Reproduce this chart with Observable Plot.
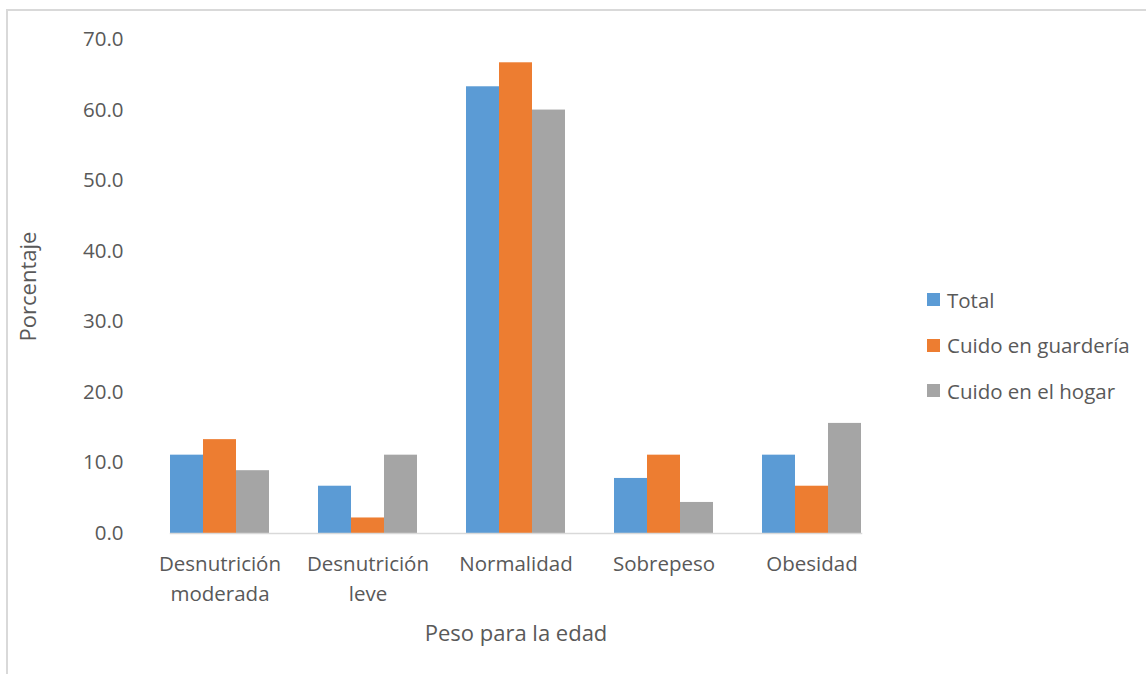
<!DOCTYPE html>
<html><head><meta charset="utf-8">
<script src="https://cdn.jsdelivr.net/npm/d3@7"></script>
<script src="https://cdn.jsdelivr.net/npm/@observablehq/plot@0.6"></script>
<style>
html,body{margin:0;padding:0;background:#fff;overflow:hidden;}
#wrap{position:relative;width:1146px;height:674px;font-family:"Open Sans",sans-serif;color:#595959;}
#border{position:absolute;left:6px;top:9px;width:1200px;height:700px;border:2px solid #d9d9d9;box-sizing:border-box;}
#chart{position:absolute;left:0;top:0;}
#legend{position:absolute;left:927px;top:277px;font-size:20.5px;}
.li{display:flex;align-items:center;height:45.5px;}
.sw{width:13px;height:13px;margin-right:7px;}
</style></head>
<body><div id="wrap"><div id="border"></div><div id="chart"></div><div id="legend"></div></div>
<script>
const categories = ["Desnutrición\nmoderada", "Desnutrición\nleve", "Normalidad", "Sobrepeso", "Obesidad"];
const series = ["Total", "Cuido en guardería", "Cuido en el hogar"];
const colors = ["#5B9BD5", "#ED7D31", "#A5A5A5"];
const totalValues = [11.1, 6.7, 63.3, 7.8, 11.1];
const guarderiaValues = [13.3, 2.2, 66.7, 11.1, 6.7];
const hogarValues = [8.9, 11.1, 60.0, 4.4, 15.6];
const yTicks = [0, 10, 20, 30, 40, 50, 60, 70];

const seriesValues = [totalValues, guarderiaValues, hogarValues];
const data = [];
categories.forEach((c, i) => series.forEach((s, j) => data.push({cat: c, series: s, value: seriesValues[j][i]})));

const chart = Plot.plot({
  width: 900, height: 674,
  marginLeft: 147, marginRight: 15, marginTop: 39, marginBottom: 141,
  style: {fontFamily: "Open Sans, sans-serif", color: "#595959", background: "transparent"},
  fx: {domain: categories, paddingInner: 0.331, paddingOuter: 0.155},
  x: {domain: series, padding: 0, axis: null},
  y: {domain: [0, 70]},
  color: {domain: series, range: colors},
  marks: [
    Plot.barY(data, {fx: "cat", x: "series", y: "value", fill: "series"}),
    Plot.frame({anchor: "bottom", stroke: "#d9d9d9", strokeWidth: 1.5, facet: "super"}),
    Plot.axisY({ticks: yTicks, tickFormat: d => d.toFixed(1), tickSize: 0, tickPadding: 47, fontSize: 20.5, label: null}),
    Plot.axisY({ticks: [], tickSize: 0, fontSize: 22, label: "Porcentaje", labelAnchor: "center", labelOffset: 150, labelArrow: "none"}),
    Plot.axisFx({anchor: "bottom", tickSize: 0, tickPadding: 16, fontSize: 20.5, lineHeight: 1.47, label: null}),
    Plot.axisFx({anchor: "bottom", ticks: [], tickSize: 0, fontSize: 22, label: "Peso para la edad", labelAnchor: "center", labelOffset: 107, labelArrow: "none"})
  ]
});
document.getElementById("chart").appendChild(chart);

const lg = document.getElementById("legend");
series.forEach((s, i) => {
  const row = document.createElement("div"); row.className = "li";
  const sw = document.createElement("div"); sw.className = "sw"; sw.style.background = colors[i];
  const t = document.createElement("span"); t.textContent = s;
  row.appendChild(sw); row.appendChild(t); lg.appendChild(row);
});
</script></body></html>
